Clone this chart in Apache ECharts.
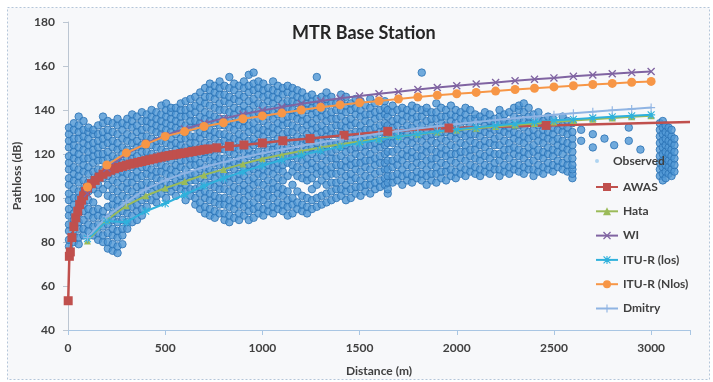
<!DOCTYPE html>
<html>
<head>
<meta charset="utf-8">
<script src="https://cdn.jsdelivr.net/npm/echarts@6/dist/echarts.min.js"></script>
<style>
  html, body { margin: 0; padding: 0; background: #ffffff; }
  #chart { width: 713px; height: 382px; }
</style>
</head>
<body>
<div id="chart"></div>
<script>
// observed samples, grouped by distance (m) -> pathloss values (dB)
const obsDist = [5,30,55,80,105,130,155,180,205,230,255,280,305,330,355,380,405,430,455,480,505,530,555,580,605,630,655,680,705,730,755,780,805,830,855,880,905,930,955,980,1005,1030,1055,1080,1105,1130,1155,1180,1205,1230,1255,1280,1305,1330,1355,1380,1405,1430,1455,1480,1505,1530,1555,1580,1605,1630,1645,1670,1695,1720,1745,1770,1795,1820,1845,1870,1895,1920,1945,1970,1995,2020,2045,2070,2095,2120,2145,2170,2195,2220,2245,2270,2295,2320,2345,2370,2395,2420,2445,2470,2495,2520,2545,2570,2595,2640,2700,2760,2810,2885,2945,3045,3060,3075,3090,3105,3120];
const obsVals = [
  [78,81,85,88,92,95,99,102,106,109,113,116,119,123,126,129,132],
  [80,83,87,90,93,97,100,104,108,111,114,118,121,124,127,131,134],
  [79,82,86,89,93,96,100,103,107,110,113,117,120,123,127,130,133,137],
  [83,86,90,94,97,101,104,108,112,115,118,122,125,128,131,135],
  [85,88,92,95,99,103,107,111,114,118,121,124,127,130,132],
  [83,87,91,94,98,104,108,112,116,119,122,125,129,131],
  [81,84,88,92,95,102,106,110,113,117,120,123,126,129,133],
  [80,83,87,91,94,104,109,113,117,120,124,127,130,134,137],
  [77,80,84,88,91,96,101,106,110,114,118,121,125,128,131,135],
  [76,79,83,86,90,93,97,100,104,108,112,116,119,123,126,130,134],
  [75,78,82,85,89,93,96,99,103,107,111,115,118,122,125,129,133,136],
  [79,83,86,90,94,97,101,105,109,112,116,120,123,127,131,134],
  [86,89,93,96,100,104,107,111,115,118,122,126,129,133,136],
  [89,92,96,99,103,107,110,114,118,121,125,128,132,135,138],
  [90,94,97,101,105,109,112,116,119,123,126,130,133,137],
  [92,95,99,103,106,110,114,117,121,124,128,131,135,139],
  [96,100,104,107,111,114,118,121,125,128,132,135,138],
  [99,103,106,110,113,117,120,124,127,131,134,137,140],
  [98,101,105,109,112,116,119,123,126,130,133,136,139],
  [102,105,108,112,115,119,122,126,129,132,135,138,142],
  [100,104,107,111,114,118,121,125,128,131,134,137,140,143],
  [103,106,110,113,117,120,124,127,130,133,136,139,141],
  [101,105,108,112,115,119,122,125,129,132,135,138,141],
  [104,107,110,114,117,121,124,127,131,134,137,140,143],
  [99,103,106,110,113,117,120,123,127,130,133,137,140,144],
  [101,104,108,111,115,118,122,125,128,132,135,138,141,145],
  [97,100,104,108,111,115,118,121,125,128,132,135,139,142,146],
  [95,98,102,105,109,113,116,120,123,127,130,134,137,141,144,148],
  [93,96,100,103,107,111,114,118,121,125,129,132,136,139,143,146,150],
  [92,95,99,102,106,110,113,117,121,124,128,131,135,138,142,146,149,152],
  [91,94,98,101,105,109,112,116,119,123,127,130,134,137,141,145,148,151],
  [93,97,100,104,107,111,115,118,122,125,129,133,136,140,143,147,150,153],
  [90,93,97,100,104,108,111,115,118,122,126,129,133,136,140,144,147,151],
  [89,92,96,99,103,107,110,114,117,121,125,128,132,135,139,143,146,150,155],
  [91,95,98,102,105,109,113,116,120,123,127,131,134,138,141,145,149,152],
  [90,93,97,100,104,108,111,115,118,122,126,129,133,136,140,144,147,151],
  [92,96,99,103,106,110,114,117,121,124,128,132,135,139,142,146,150,153],
  [90,94,97,101,104,108,112,115,119,122,126,130,133,137,140,144,148,151,156],
  [91,95,98,102,106,109,113,116,120,124,127,131,134,138,142,145,149,152,157],
  [93,96,100,103,107,111,114,118,121,125,129,132,136,139,143,147,150,153],
  [92,95,99,102,106,110,113,117,120,124,128,131,135,138,142,146,149,152],
  [94,97,101,104,108,112,115,119,122,126,130,133,137,140,144,147,150],
  [93,96,100,104,107,111,114,118,122,125,129,132,136,139,143,146,149,153],
  [95,98,102,105,109,113,116,120,123,127,131,134,138,141,145,148,151],
  [94,97,101,104,108,112,115,119,122,126,129,133,136,140,143,147,150],
  [92,96,99,103,110,116,119,123,127,130,134,137,141,144,148,151],
  [93,97,100,106,112,115,119,122,126,130,133,137,140,144,147,150],
  [95,98,103,110,114,118,121,125,128,132,136,139,143,146,149],
  [94,97,101,109,113,117,120,124,127,131,135,138,142,145,148],
  [93,96,100,108,111,115,118,122,126,129,133,136,140,143,146],
  [95,99,104,109,113,116,120,123,127,131,134,138,141,144,147],
  [96,100,106,111,114,118,122,125,129,132,136,139,142,145,155],
  [97,101,108,112,115,119,122,126,130,133,137,140,143,146],
  [98,102,106,110,113,117,121,124,128,131,135,138,142,145,148],
  [99,103,107,111,114,118,121,125,129,132,136,139,143,146],
  [100,104,107,111,115,118,122,125,129,133,136,140,143],
  [101,104,108,112,115,119,123,126,130,133,137,140,144,147],
  [99,103,106,110,114,117,121,124,128,132,135,139,142,146],
  [100,104,108,111,115,118,122,126,129,133,136,140,143],
  [102,105,109,113,116,120,123,127,130,134,138,141,145],
  [101,105,108,112,116,119,123,126,130,133,137,140,144],
  [103,106,110,114,117,121,124,128,131,135,138,142],
  [102,106,109,113,117,120,124,127,131,134,138,141,145],
  [104,107,111,115,118,122,125,129,132,136,139,143],
  [105,108,112,116,119,123,126,130,133,137,140],
  [106,109,113,116,120,124,127,131,134,138,141,144],
  [102,104,107,110,113,117,121,125,129,133,137,140],
  [107,110,114,117,121,125,128,132,135,139,142],
  [108,111,115,118,122,126,129,133,136,140],
  [106,110,113,117,120,124,128,131,135,138,141],
  [108,111,115,119,122,126,129,133,137,140],
  [107,110,114,118,121,125,128,132,136,139,142],
  [109,112,116,119,123,127,130,134,137,141],
  [108,111,115,119,122,126,129,133,137,140,157],
  [106,110,113,117,121,124,128,131,135,139,141],
  [108,111,115,118,122,126,129,133,136,139],
  [107,111,114,118,121,125,129,132,136,139,143],
  [109,112,116,120,123,127,130,134,137,141],
  [108,112,115,119,122,126,130,133,137,140],
  [110,113,117,120,124,128,131,135,138,142],
  [109,112,116,120,123,127,130,134,137,140],
  [111,114,118,121,125,129,132,136,139],
  [110,113,117,121,124,128,131,135,138,141],
  [112,115,119,122,126,129,133,136,140],
  [111,114,118,122,125,129,132,136,138],
  [110,113,117,120,124,128,131,135,137],
  [112,115,119,123,126,130,133,136,139],
  [111,114,118,121,125,129,132,135,138],
  [113,116,120,124,127,131,134,136],
  [110,113,117,120,124,128,131,134,137,140],
  [112,115,119,122,126,130,133,135,138],
  [111,114,118,122,125,129,132,134,139],
  [113,116,120,123,127,130,133,137,141],
  [112,115,119,122,126,129,133,136,140,142],
  [111,114,118,121,125,128,132,135,139,143],
  [113,116,120,123,127,130,134,137,141],
  [110,113,117,121,124,128,131,134,138],
  [112,115,119,122,126,129,133,136,139],
  [111,114,118,121,125,128,131,135],
  [113,116,120,123,127,130,133,137],
  [112,115,119,122,126,129,132,136],
  [114,117,121,124,127,131,134],
  [113,116,120,123,126,130,133,137],
  [112,115,118,122,125,129,132,135],
  [109,111,113,115,118,121,124,127,130,134],
  [126,131],
  [123,129],
  [127],
  [124],
  [126,132],
  [122],
  [110,113,116,119,122,125,128,131,134],
  [108,111,114,117,120,123,126,129,132,135],
  [109,112,115,118,121,124,127,130,133],
  [111,114,117,120,123,126,129,132],
  [110,113,116,119,122,125,128,131],
  [112,115,118,121,124,127]
];

// AWAS model
const awasDist = [1,7,12,20,30,40,50,60,70,80,90,100,120,140,160,180,200,220,240,260,280,300,320,340,360,380,400,420,440,460,480,500,520,540,560,580,600,620,640,660,680,700,720,765,830,905,1000,1105,1245,1420,1645,1960,2460,3200];
const awasVals = [53.3,73.5,75.5,82,87,91,94,97,99,101,103,104.5,106.5,108,109.5,110.8,111.8,112.6,113.3,113.9,114.4,114.9,115.4,115.8,116.2,116.6,117,117.4,117.8,118.2,118.6,119,119.3,119.6,119.9,120.2,120.5,120.8,121.1,121.4,121.7,122,122.3,122.8,123.5,124.1,125,126,127,128.5,130.3,131.8,133,134.5];

// other models share the same distances
const modelDist = [100,200,300,400,500,600,700,800,900,1000,1100,1200,1300,1400,1500,1600,1700,1800,1900,2000,2100,2200,2300,2400,2500,2600,2700,2800,2900,3000];
const hataVals = [80.5,90,96.5,101,104.5,107.5,110.5,113,115.5,117.8,119.7,121.4,123,124.4,125.7,126.9,128,129,130,130.9,131.7,132.5,133.2,133.9,134.6,135.2,135.8,136.4,136.9,137.4];
const wiVals = [102,113.5,120,124.8,128.4,131.4,134,136.2,138.1,139.8,141.4,142.8,144.1,145.3,146.4,147.4,148.3,149.3,150.2,151,151.8,152.5,153.3,154,154.6,155.3,155.9,156.5,157,157.5];
const ituLosVals = [81.5,89.5,89,94,97.5,101.5,105.5,109,112,114.8,117.3,119.5,121.5,123.3,125,126.5,127.9,129.1,130.2,131.2,132.1,133,133.8,134.5,135.2,135.8,136.4,136.9,137.4,137.8];
const ituNlosVals = [105,115,120.5,124.5,128,130.2,132.5,134.2,136,137.3,138.6,140,141.2,142.3,143.3,144.1,145,145.9,146.7,147.4,148,148.6,149.3,149.9,150.5,151,151.6,152.1,152.6,153];
const dmitryVals = [82,91.5,98,104,108,111.3,114,116.3,118.4,120.3,122,123.7,125.2,126.7,128,129.3,130.5,131.6,132.6,133.6,134.5,135.4,136.2,137,137.8,138.5,139.2,139.9,140.5,141.1];

const xTicks = [0,500,1000,1500,2000,2500,3000];

const crossPath = 'path://M0,1.2L1.2,0L5,3.8L8.8,0L10,1.2L6.2,5L10,8.8L8.8,10L5,6.2L1.2,10L0,8.8L3.8,5Z';
const plusPath = 'path://M4.3,0H5.7V4.3H10V5.7H5.7V10H4.3V5.7H0V4.3H4.3Z';
const starPath = 'path://M4.3,0H5.7V4.3H10V5.7H5.7V10H4.3V5.7H0V4.3H4.3Z M1.2,0.2L5,4L8.8,0.2L9.8,1.2L6,5L9.8,8.8L8.8,9.8L5,6L1.2,9.8L0.2,8.8L4,5L0.2,1.2Z';

const observed = [];
obsDist.forEach((d, i) => {
  obsVals[i].forEach((v) => observed.push([d, v]));
});
const pairs = (xs, ys) => xs.map((x, i) => [x, ys[i]]);

const awasData = pairs(awasDist, awasVals);
// the model line runs past its last marker
awasData[awasData.length - 1] = { value: awasData[awasData.length - 1], symbolSize: 0 };

const font = 'Lato, "Open Sans", sans-serif';
const textCol = '#404040';

function lineSeries(name, data, color, symbol, size, width) {
  return {
    name: name,
    type: 'line',
    data: data,
    symbol: symbol,
    symbolSize: size,
    showAllSymbol: true,
    lineStyle: { color: color, width: width },
    itemStyle: { color: color, borderColor: color, borderWidth: 0 },
    emphasis: { disabled: true },
  };
}

const chart = echarts.init(document.getElementById('chart'));
chart.setOption({
  animation: false,
  backgroundColor: '#ffffff',
  graphic: [{
    type: 'rect',
    shape: { x: 7.5, y: 7.5, width: 702, height: 372 },
    style: { fill: '#f7f8fa', stroke: '#b4c6da', lineWidth: 1, lineDash: [2, 2] },
    z: -10,
  }],
  title: {
    text: 'MTR Base Station',
    left: 287,
    top: 19,
    textStyle: { fontFamily: font, fontWeight: 'bold', fontSize: 18, color: '#262626' },
  },
  legend: [{
    data: [{ name: 'Observed', icon: 'circle', itemStyle: { color: '#9ccaee', borderWidth: 0 } }],
    left: 590,
    top: 150,
    itemWidth: 22,
    itemHeight: 4,
    textStyle: { fontFamily: font, fontWeight: 'bold', fontSize: 12, color: textCol },
  }, {
    data: ['AWAS', 'Hata', 'WI', 'ITU-R (los)', 'ITU-R (Nlos)', 'Dmitry'],
    orient: 'vertical',
    left: 590,
    top: 176,
    itemWidth: 22,
    itemHeight: 10,
    itemGap: 12.3,
    textStyle: { fontFamily: font, fontWeight: 'bold', fontSize: 12, color: textCol },
  }],
  grid: { left: 68, right: 23, top: 22, bottom: 52 },
  xAxis: {
    type: 'value',
    min: 0,
    max: 3200,
    interval: 500,
    name: 'Distance (m)',
    nameLocation: 'middle',
    nameGap: 35,
    nameTextStyle: { fontFamily: font, fontWeight: 'bold', fontSize: 12, color: textCol },
    axisLine: { lineStyle: { color: '#a9c6e3', width: 1 } },
    axisTick: { show: true, length: 5, lineStyle: { color: '#a9c6e3' } },
    axisLabel: {
      margin: 12,
      fontFamily: font, fontWeight: 'bold', fontSize: 12, color: textCol,
      formatter: (v) => (xTicks.includes(v) ? String(v) : ''),
    },
    splitLine: { show: false },
  },
  yAxis: {
    type: 'value',
    min: 40,
    max: 180,
    interval: 20,
    name: 'Pathloss (dB)',
    nameLocation: 'middle',
    nameGap: 31,
    nameTextStyle: { fontFamily: font, fontWeight: 'bold', fontSize: 12, color: textCol },
    axisLine: { show: true, lineStyle: { color: '#bcc6d2', width: 1 } },
    axisTick: { show: true, length: 5, lineStyle: { color: '#bcc6d2' } },
    axisLabel: { margin: 13, fontFamily: font, fontWeight: 'bold', fontSize: 12, color: textCol },
    splitLine: { show: false },
  },
  series: [
    {
      name: 'Observed',
      type: 'scatter',
      data: observed,
      symbol: 'circle',
      symbolSize: 7.5,
      itemStyle: { color: '#4d96d5', borderColor: '#2a72b4', borderWidth: 1 },
      emphasis: { disabled: true },
    },
    lineSeries('AWAS', awasData, '#c0504d', 'rect', 9, 2.5),
    lineSeries('Hata', pairs(modelDist, hataVals), '#9bbb59', 'triangle', 7, 2),
    lineSeries('WI', pairs(modelDist, wiVals), '#8064a2', crossPath, 8, 2),
    lineSeries('ITU-R (los)', pairs(modelDist, ituLosVals), '#2fb1dc', starPath, 8, 2),
    lineSeries('ITU-R (Nlos)', pairs(modelDist, ituNlosVals), '#f79646', 'circle', 9, 2),
    lineSeries('Dmitry', pairs(modelDist, dmitryVals), '#8fb4e3', plusPath, 8, 2),
  ],
});
</script>
</body>
</html>
